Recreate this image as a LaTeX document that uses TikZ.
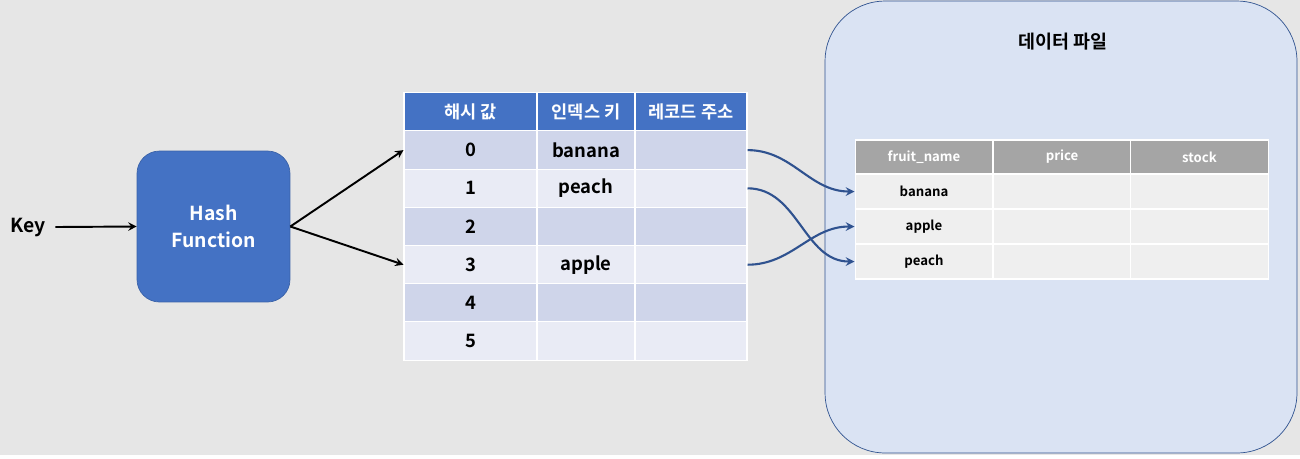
\documentclass[tikz,border=0pt]{standalone}
\usepackage{fontspec}
\setmainfont{Noto Sans CJK KR}[BoldFont={Noto Sans CJK KR Bold}]
\usepackage{xcolor}
\definecolor{bggray}{HTML}{E6E6E6}
\definecolor{hashblue}{HTML}{4472C4}
\definecolor{hashedge}{HTML}{3A62A8}
\definecolor{rowdark}{HTML}{CFD5EA}
\definecolor{rowlight}{HTML}{E9EBF5}
\definecolor{filefill}{HTML}{DAE3F3}
\definecolor{fileedge}{HTML}{2F528F}
\definecolor{headgray}{HTML}{A5A5A5}
\definecolor{cellgray}{HTML}{EFEFEF}

\begin{document}
\begin{tikzpicture}[x=0.02cm, y=-0.02cm,
    cell/.style={draw=white, line width=0.6pt, rectangle, inner sep=0pt, minimum height=0.766cm, font=\fontsize{10.5}{12}\selectfont\bfseries},
    colA/.style={cell, minimum width=2.66cm},
    colB/.style={cell, minimum width=1.96cm},
    colC/.style={cell, minimum width=2.24cm},
    head/.style={fill=hashblue, text=white, font=\fontsize{10}{12}\selectfont\bfseries},
    fcell/.style={draw=white, line width=0.6pt, rectangle, inner sep=0pt, minimum width=2.76cm, minimum height=0.7cm, fill=cellgray, font=\fontsize{7.5}{9}\selectfont\bfseries},
    fhead/.style={fcell, fill=headgray, text=white, minimum height=0.68cm},
    link/.style={->, >=stealth, draw=fileedge, line width=1.2pt}]

    \useasboundingbox (0,0) rectangle (1300,458);
    \fill[bggray] (0,0) rectangle (1300,455);

    % Data file
    \node[draw=fileedge, fill=filefill, rounded corners=1.2cm, minimum width=9.44cm, minimum height=9.04cm] (file) at (1061,227) {};
    \node[font=\fontsize{10.5}{12}\selectfont\bfseries] (filetitle) at (1063,42) {데이터 파일};

    % Hash function
    \node[font=\fontsize{11}{13}\selectfont\bfseries] (key) at (28,227) {Key};
    \node[draw=hashedge, fill=hashblue, rounded corners=0.45cm, minimum width=3.06cm, minimum height=3.02cm, text=white, align=center, font=\fontsize{11}{15}\selectfont\bfseries] (hash) at (213.5,226.5) {Hash\\Function};

    % Hash table
    \node[colA, head] (hv) at (470.5,112) {해시 값};
    \node[colB, head] (ik) at (586,112) {인덱스 키};
    \node[colC, head] (ra) at (691,112) {레코드 주소};

    \node[colA, fill=rowdark] (hv0) at (470.5,150.1) {0};
    \node[colB, fill=rowdark] (ik0) at (586,150.1) {banana};
    \node[colC, fill=rowdark] (ra0) at (691,150.1) {};

    \node[colA, fill=rowlight] (hv1) at (470.5,188.3) {1};
    \node[colB, fill=rowlight] (ik1) at (586,188.3) {peach};
    \node[colC, fill=rowlight] (ra1) at (691,188.3) {};

    \node[colA, fill=rowdark] (hv2) at (470.5,226.5) {2};
    \node[colB, fill=rowdark] (ik2) at (586,226.5) {};
    \node[colC, fill=rowdark] (ra2) at (691,226.5) {};

    \node[colA, fill=rowlight] (hv3) at (470.5,264.7) {3};
    \node[colB, fill=rowlight] (ik3) at (586,264.7) {apple};
    \node[colC, fill=rowlight] (ra3) at (691,264.7) {};

    \node[colA, fill=rowdark] (hv4) at (470.5,302.9) {4};
    \node[colB, fill=rowdark] (ik4) at (586,302.9) {};
    \node[colC, fill=rowdark] (ra4) at (691,302.9) {};

    \node[colA, fill=rowlight] (hv5) at (470.5,341.1) {5};
    \node[colB, fill=rowlight] (ik5) at (586,341.1) {};
    \node[colC, fill=rowlight] (ra5) at (691,341.1) {};

    % Record table
    \node[fhead] (fn) at (924,157) {fruit\_name};
    \node[fhead] (pr) at (1062,157) {price};
    \node[fhead] (st) at (1199.5,157) {stock};

    \node[fcell] (fn1) at (924,191.5) {banana};
    \node[fcell] (pr1) at (1062,191.5) {};
    \node[fcell] (st1) at (1199.5,191.5) {};

    \node[fcell] (fn2) at (924,226.5) {apple};
    \node[fcell] (pr2) at (1062,226.5) {};
    \node[fcell] (st2) at (1199.5,226.5) {};

    \node[fcell] (fn3) at (924,261.5) {peach};
    \node[fcell] (pr3) at (1062,261.5) {};
    \node[fcell] (st3) at (1199.5,261.5) {};

    % Arrows
    \draw[->, >=stealth, line width=1.1pt] ([xshift=2pt]key.east) -- (hash.west);
    \draw[->, >=stealth, line width=1.1pt] (hash.east) -- (hv0.west);
    \draw[->, >=stealth, line width=1.1pt] (hash.east) -- (hv3.west);

    \draw[link] (ra0.east) to[out=0, in=180] (fn1.west);
    \draw[link] (ra1.east) to[out=0, in=180] (fn3.west);
    \draw[link] (ra3.east) to[out=0, in=180] (fn2.west);
\end{tikzpicture}
\end{document}
